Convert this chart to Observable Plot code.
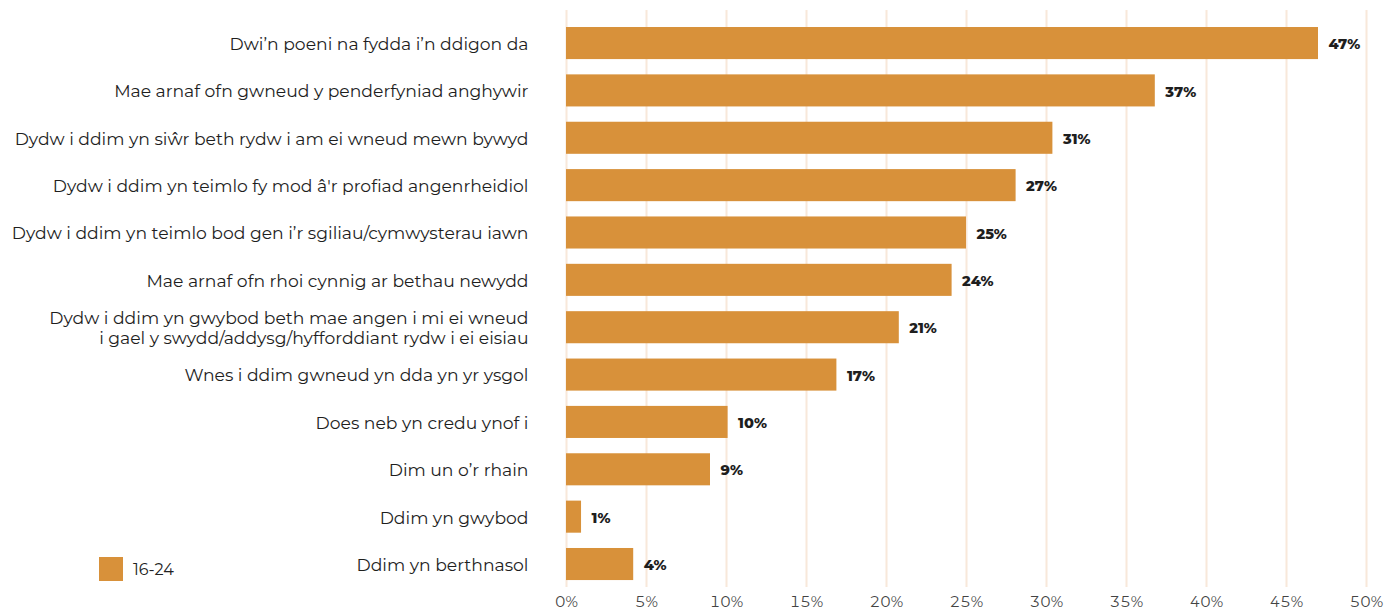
<!DOCTYPE html>
<html>
<head>
<meta charset="utf-8">
<script src="https://cdn.jsdelivr.net/npm/d3@7"></script>
<script src="https://cdn.jsdelivr.net/npm/@observablehq/plot@0.6"></script>
<style>
  html, body { margin: 0; padding: 0; background: #fff; }
  #wrap { position: relative; width: 1392px; height: 612px; font-family: Montserrat, Inter, sans-serif; }
  #legend { position: absolute; left: 99px; top: 557px; display: flex; align-items: center; font-size: 16px; color: #222; }
  #legend .sw { width: 24px; height: 24px; background: #D8913A; margin-right: 10px; }
</style>
</head>
<body>
<div id="wrap">
  <div id="chart"></div>
  <div id="legend"><div class="sw"></div><span>16-24</span></div>
</div>
<script>
const categories = [
  "Dwi’n poeni na fydda i’n ddigon da",
  "Mae arnaf ofn gwneud y penderfyniad anghywir",
  "Dydw i ddim yn siŵr beth rydw i am ei wneud mewn bywyd",
  "Dydw i ddim yn teimlo fy mod â'r profiad angenrheidiol",
  "Dydw i ddim yn teimlo bod gen i’r sgiliau/cymwysterau iawn",
  "Mae arnaf ofn rhoi cynnig ar bethau newydd",
  "Dydw i ddim yn gwybod beth mae angen i mi ei wneud\ni gael y swydd/addysg/hyfforddiant rydw i ei eisiau",
  "Wnes i ddim gwneud yn dda yn yr ysgol",
  "Does neb yn credu ynof i",
  "Dim un o’r rhain",
  "Ddim yn gwybod",
  "Ddim yn berthnasol"
];
const values = [47.0, 36.8, 30.4, 28.1, 25.0, 24.1, 20.8, 16.9, 10.1, 9.0, 0.94, 4.2];
const labels = ["47%", "37%", "31%", "27%", "25%", "24%", "21%", "17%", "10%", "9%", "1%", "4%"];
const xTicks = [0, 5, 10, 15, 20, 25, 30, 35, 40, 45, 50];
const series = "16-24";

const data = categories.map((c, i) => ({category: c, value: values[i], label: labels[i], series}));

const chart = Plot.plot({
  width: 1392,
  height: 612,
  marginLeft: 566,
  marginRight: 26,
  marginTop: 10,
  marginBottom: 25,
  style: {fontFamily: "Montserrat, Inter, sans-serif", background: "transparent"},
  x: {domain: [0, 50], ticks: xTicks, tickFormat: d => d + "%", label: null},
  y: {domain: categories, padding: 0.323, paddingOuter: 0.253, align: 0.71, round: false, label: null},
  marks: [
    Plot.gridX(xTicks, {stroke: "#F8E8DA", strokeOpacity: 1, strokeWidth: 2}),
    Plot.barX(data, {x: "value", y: "category", fill: "#D8913A"}),
    Plot.text(data, {x: "value", y: "category", text: "label", textAnchor: "start", dx: 10, dy: 1, fontSize: 14.5, fontWeight: 800, fill: "#1e1e1e"}),
    Plot.axisX({ticks: xTicks, tickSize: 0, tickPadding: 9, fontSize: 15, color: "#444", tickFormat: d => d + "%", label: null}),
    Plot.axisY({tickSize: 0, tickPadding: 38, fontSize: 17.2, color: "#1e1e1e", lineHeight: 1.16, label: null})
  ]
});
document.getElementById("chart").appendChild(chart);
</script>
</body>
</html>
